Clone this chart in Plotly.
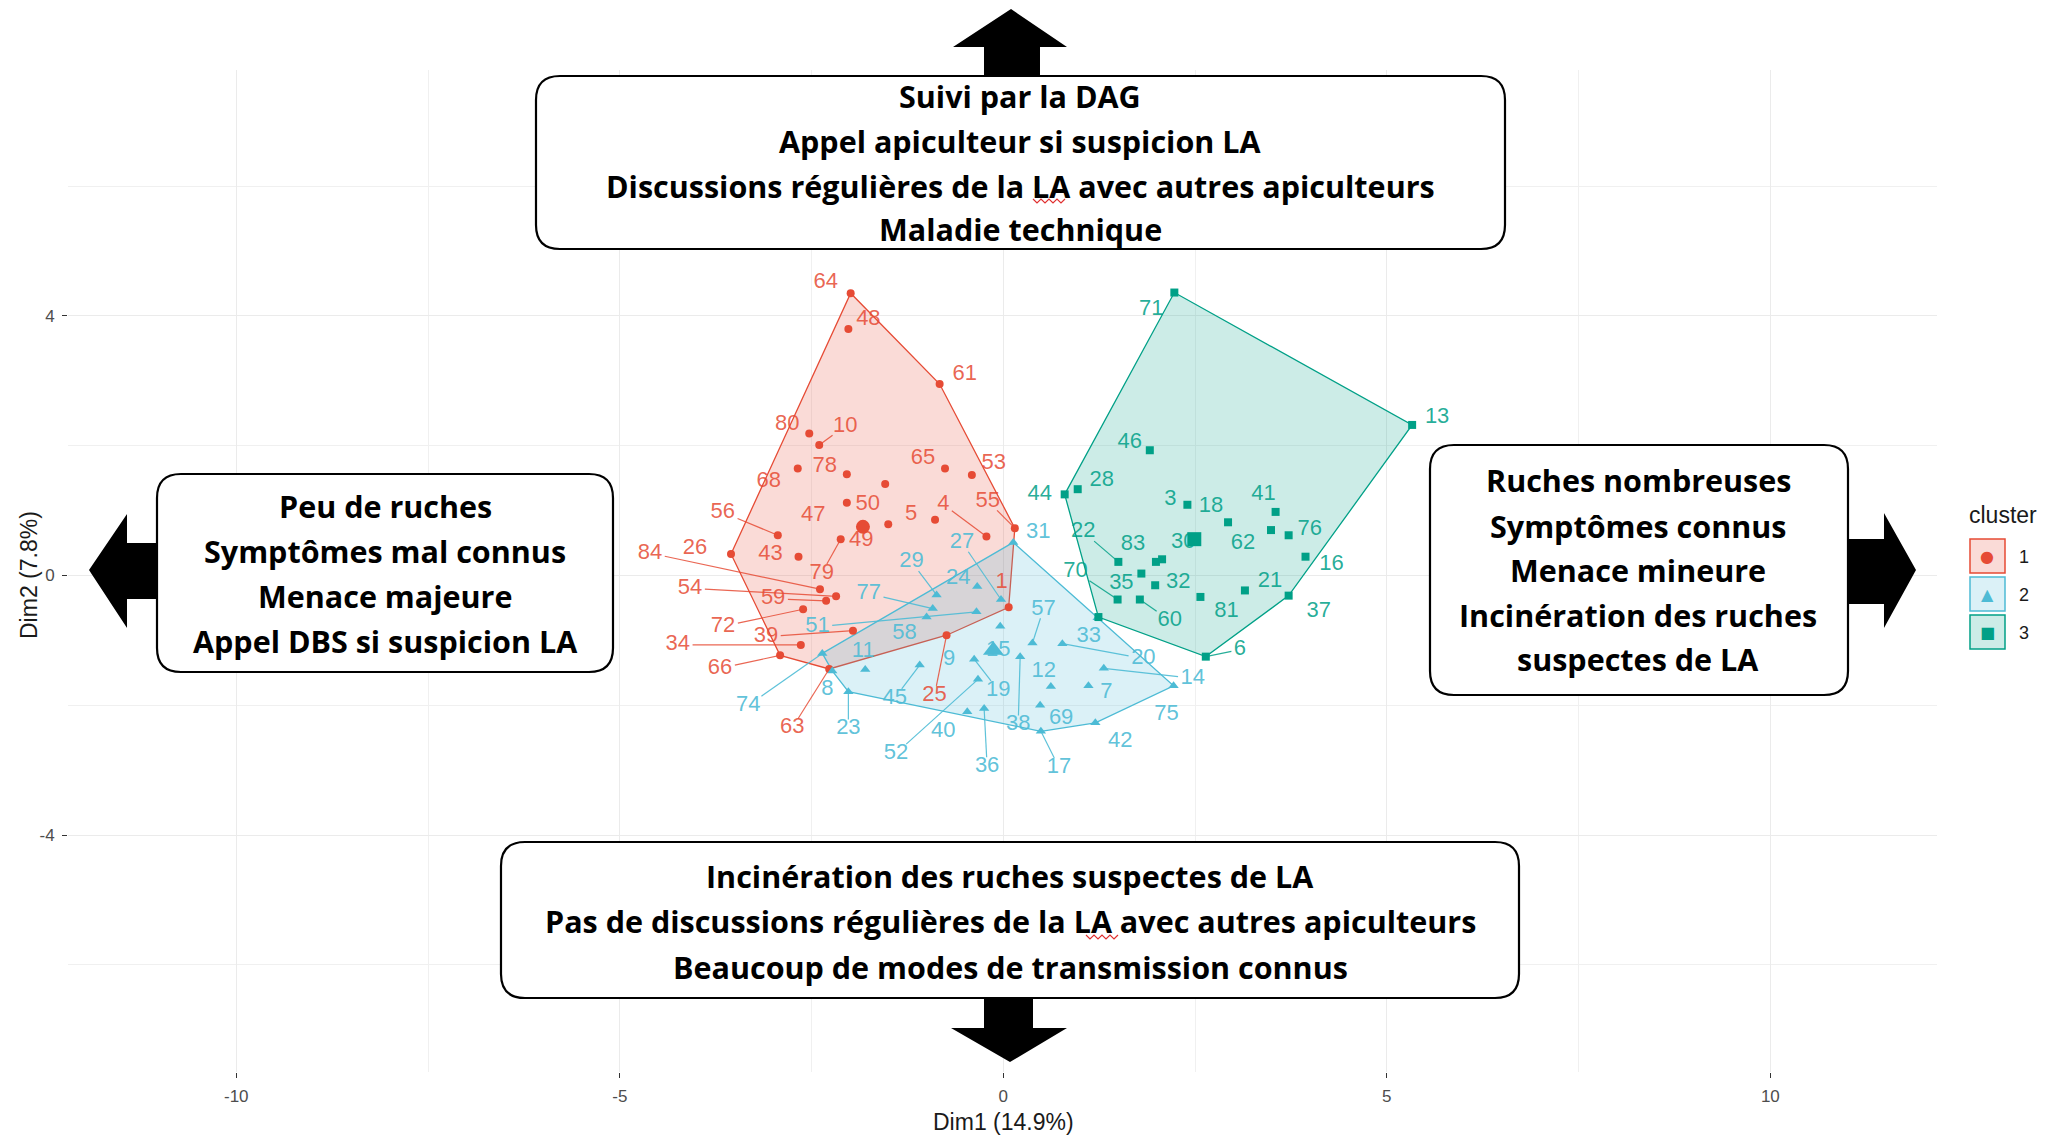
import plotly.graph_objects as go

# ---------------- data ----------------
ids1 = ["64", "48", "61", "80", "10", "68", "78", "67", "65", "53", "50", "47", "49", "5", "4",
        "55", "56", "79", "26", "43", "84", "54", "59", "72", "39", "34", "66", "63", "25", "1"]
x1 = [-1.99, -2.02, -0.83, -2.53, -2.40, -2.68, -2.04, -1.54, -0.76, -0.41, -2.04, -1.84, -1.50, -0.89, -0.22,
      0.15, -2.94, -2.12, -3.55, -2.67, -2.39, -2.18, -2.31, -2.61, -1.96, -2.64, -2.91, -2.27, -0.74, 0.07]
y1 = [4.35, 3.80, 2.95, 2.19, 2.01, 1.65, 1.56, 1.41, 1.65, 1.55, 1.12, 0.73, 0.79, 0.86, 0.60,
      0.73, 0.62, 0.56, 0.33, 0.29, -0.21, -0.32, -0.39, -0.52, -0.85, -1.07, -1.23, -1.44, -0.92, -0.49]

ids2 = ["31", "27", "29", "24", "77", "58", "51", "74", "8", "11", "23", "45", "9", "15", "19",
        "52", "40", "36", "38", "57", "12", "69", "17", "20", "33", "14", "7", "42", "75"]
x2 = [0.13, -0.03, -0.87, -0.34, -0.92, -1.00, -0.35, -2.36, -2.23, -1.80, -2.02, -1.09, -0.04, -0.13, -0.38,
      -0.33, -0.47, -0.25, 0.22, 0.38, 0.62, 0.48, 0.49, 0.77, 1.23, 1.31, 1.11, 1.20, 2.22]
y2 = [0.51, -0.37, -0.30, -0.17, -0.51, -0.64, -0.56, -1.20, -1.47, -1.45, -1.79, -1.38, -0.78, -1.15, -1.29,
      -1.60, -2.10, -2.05, -1.25, -1.04, -1.71, -2.00, -2.40, -1.05, -0.65, -1.43, -1.70, -2.27, -1.70]

ids3 = ["71", "13", "46", "44", "28", "3", "18", "41", "62", "76", "30", "16", "22", "83", "82",
        "35", "32", "70", "60", "81", "21", "37", "6", "73"]
x3 = [2.23, 5.33, 1.91, 0.80, 0.97, 2.40, 2.93, 3.55, 3.49, 3.72, 2.49, 3.94, 1.50, 1.99, 2.07,
      1.80, 1.98, 1.49, 1.78, 2.57, 3.15, 3.72, 2.64, 1.24]
y3 = [4.36, 2.32, 1.93, 1.25, 1.33, 1.09, 0.82, 0.98, 0.70, 0.62, 0.55, 0.29, 0.21, 0.21, 0.25,
      0.03, -0.15, -0.37, -0.37, -0.33, -0.23, -0.31, -1.25, -0.64]

centre_x = [-1.83, -0.13, 2.49]
centre_y = [0.75, -1.15, 0.56]
cluster_names = ["1", "2", "3"]

x_ticks = [-10, -5, 0, 5, 10]
y_ticks = [-4, 0, 4]

# ---------------- layout / style ----------------
W, H = 2051, 1135
ML, MR, MT, MB = 68, 114, 70, 63
PW, PH = W - ML - MR, H - MT - MB
XR = [-12.194, 12.173]
YR = [-7.650, 7.789]
PPX = PW / (XR[1] - XR[0])
PPY = PH / (YR[1] - YR[0])

COLORS = ["#E64B35", "#4DBBD5", "#00A087"]
TEXTC = ["rgba(230,75,53,0.85)", "rgba(77,187,213,0.9)", "rgba(0,160,135,0.85)"]
FILLS = ["rgba(230,75,53,0.2)", "rgba(77,187,213,0.2)", "rgba(0,160,135,0.2)"]
SYMBOLS = ["circle", "triangle-up", "square"]
MSIZE = [8, 9, 8]
CSIZE = [14, 18, 14]
LFS = 22
FONT = "Liberation Sans, Arial, sans-serif"
BFONT = "'Open Sans', Lato, sans-serif"
BFS = 30.5

# label offsets from point (pixels) and whether a repel segment is drawn
LABEL_POS = {
    "64": (-25, -11, 0), "48": (20, -9, 0), "61": (25, -10, 0), "80": (-22, -9, 0), "10": (26, -19, 1),
    "68": (-29, 13, 0), "78": (-22, -8, 0), "65": (-22, -10, 0), "53": (22, -11, 0), "50": (21, 2, 0),
    "47": (-49, -13, 0), "49": (-27, 16, 0), "5": (-24, -5, 0), "4": (-43, -32, 1), "55": (-27, -27, 1),
    "56": (-55, -23, 1), "79": (-19, 34, 1), "26": (-36, -6, 0), "43": (-28, -2, 0), "84": (-170, -36, 1),
    "54": (-146, -8, 1), "59": (-53, -2, 1), "72": (-80, 17, 1), "39": (-87, 6, 1), "34": (-123, 0, 1),
    "66": (-60, 13, 1), "63": (-37, 59, 1), "25": (-12, 60, 1), "1": (-7, -25, 0),
    "31": (25, -10, 0), "27": (-39, -57, 1), "29": (-25, -33, 1), "24": (-19, -8, 0), "77": (-64, -15, 1),
    "58": (-22, 16, 0), "51": (-159, 15, 1), "74": (-74, 52, 1), "8": (-5, 19, 0), "11": (-2, -18, 0),
    "23": (0, 37, 1), "45": (-25, 33, 1), "9": (-51, 33, 0), "15": (5, 0, 0), "19": (24, 31, 1),
    "52": (-82, 74, 1), "40": (-24, 20, 0), "36": (3, 58, 1), "38": (-2, 68, 1), "57": (11, -34, 1),
    "12": (-7, -15, 0), "69": (21, 13, 0), "17": (18, 36, 1), "20": (81, 15, 1), "33": (-9, 19, 0),
    "14": (89, 10, 1), "7": (18, 7, 0), "42": (25, 19, 0), "75": (-7, 29, 0),
    "71": (-23, 17, 0), "13": (25, -7, 0), "46": (-20, -8, 0), "44": (-25, 0, 0), "28": (24, -9, 0),
    "3": (-17, -5, 0), "18": (-17, -16, 0), "41": (-12, -17, 0), "62": (-28, 13, 0), "76": (21, -6, 0),
    "30": (-11, 3, 0), "16": (26, 8, 0), "22": (-35, -30, 1), "83": (-23, -17, 0), "35": (-20, 10, 0),
    "32": (23, -3, 0), "70": (-42, -28, 1), "60": (30, 21, 1), "81": (26, 15, 0), "21": (25, -9, 0),
    "37": (30, 16, 0), "6": (34, -7, 1),
}

clusters = [(ids1, x1, y1), (ids2, x2, y2), (ids3, x3, y3)]


def paper(px, py):
    return (px - ML) / PW, 1 - (py - MT) / PH


def convex_hull(xs, ys):
    pts = sorted(set(zip(xs, ys)))

    def cross(o, a, b):
        return (a[0] - o[0]) * (b[1] - o[1]) - (a[1] - o[1]) * (b[0] - o[0])
    lower, upper = [], []
    for p in pts:
        while len(lower) >= 2 and cross(lower[-2], lower[-1], p) <= 0:
            lower.pop()
        lower.append(p)
    for p in reversed(pts):
        while len(upper) >= 2 and cross(upper[-2], upper[-1], p) <= 0:
            upper.pop()
        upper.append(p)
    h = lower[:-1] + upper[:-1]
    h.append(h[0])
    return [p[0] for p in h], [p[1] for p in h]


fig = go.Figure()

# hulls
for k, (ids, xs, ys) in enumerate(clusters):
    hx, hy = convex_hull(xs, ys)
    fig.add_trace(go.Scatter(x=hx, y=hy, mode="lines", fill="toself", fillcolor=FILLS[k],
                             line=dict(color=COLORS[k], width=1.3), hoverinfo="skip", showlegend=False))
# points
for k, (ids, xs, ys) in enumerate(clusters):
    fig.add_trace(go.Scatter(x=xs, y=ys, mode="markers", text=ids,
                             marker=dict(symbol=SYMBOLS[k], size=MSIZE[k], color=COLORS[k], line=dict(width=0)),
                             showlegend=False))
# repel segments + labels
for k, (ids, xs, ys) in enumerate(clusters):
    sx, sy, tx, ty, tt = [], [], [], [], []
    for i, x, y in zip(ids, xs, ys):
        if i not in LABEL_POS:
            continue
        dx, dy, seg = LABEL_POS[i]
        tx.append(x + dx / PPX)
        ty.append(y - dy / PPY)
        tt.append(i)
        if seg:
            hw = 0.29 * LFS * len(i) + 2
            hh = 0.42 * LFS
            t = min(hw / abs(dx) if dx else 1e9, hh / abs(dy) if dy else 1e9)
            f = max(0.0, 1 - t)
            sx += [x, x + dx * f / PPX, None]
            sy += [y, y - dy * f / PPY, None]
    fig.add_trace(go.Scatter(x=sx, y=sy, mode="lines", line=dict(color=TEXTC[k], width=1.2),
                             hoverinfo="skip", showlegend=False))
    fig.add_trace(go.Scatter(x=tx, y=ty, mode="text", text=tt, textposition="middle center",
                             textfont=dict(family=FONT, size=LFS, color=TEXTC[k]),
                             hoverinfo="skip", showlegend=False))
# centroids
for k in range(3):
    fig.add_trace(go.Scatter(x=[centre_x[k]], y=[centre_y[k]], mode="markers",
                             marker=dict(symbol=SYMBOLS[k], size=CSIZE[k], color=COLORS[k], line=dict(width=0)),
                             showlegend=False))

shapes = []
annotations = []


def note(px, py, text, size, family=FONT, color="#1a1a1a", xanchor="center", **kw):
    a, b = paper(px, py)
    annotations.append(dict(x=a, y=b, xref="paper", yref="paper", text=text, showarrow=False,
                            xanchor=xanchor, yanchor="middle",
                            font=dict(family=family, size=size, color=color), **kw))


def poly(points, fill="black"):
    pp = [paper(*p) for p in points]
    d = "M " + " L ".join(f"{a:.5f},{b:.5f}" for a, b in pp) + " Z"
    shapes.append(dict(type="path", xref="paper", yref="paper", path=d, fillcolor=fill,
                       line=dict(width=0), layer="above"))


def squiggle(x0, x1_, yy, step=4, amp=2):
    pts = []
    x = x0
    up = True
    while x <= x1_:
        pts.append((x, yy - amp if up else yy + amp))
        up = not up
        x += step
    pp = [paper(*p) for p in pts]
    d = "M " + " L ".join(f"{a:.5f},{b:.5f}" for a, b in pp)
    shapes.append(dict(type="path", xref="paper", yref="paper", path=d,
                       line=dict(color="#E03030", width=1.2), layer="above"))


def rbox(x0, y0, x1_, y1_, r=24):
    segs = [("M", (x0 + r, y0)), ("L", (x1_ - r, y0)), ("Q", (x1_, y0), (x1_, y0 + r)),
            ("L", (x1_, y1_ - r)), ("Q", (x1_, y1_), (x1_ - r, y1_)), ("L", (x0 + r, y1_)),
            ("Q", (x0, y1_), (x0, y1_ - r)), ("L", (x0, y0 + r)), ("Q", (x0, y0), (x0 + r, y0))]
    d = ""
    for s in segs:
        coords = " ".join("{:.5f},{:.5f}".format(*paper(*p)) for p in s[1:])
        d += f"{s[0]} {coords} "
    d += "Z"
    shapes.append(dict(type="path", xref="paper", yref="paper", path=d, fillcolor="white",
                       line=dict(color="black", width=2.2), layer="above"))


def lines_text(cx, ys, texts):
    for yy, t in zip(ys, texts):
        note(cx, yy, f"<b>{t}</b>", BFS, family=BFONT, color="black")


# arrows
poly([(1011, 9), (1067, 47), (1040, 47), (1040, 80), (984, 80), (984, 47), (953, 47)])      # up
poly([(1010, 1062), (1067, 1028), (1033, 1028), (1033, 995), (984, 995), (984, 1028), (951, 1028)])  # down
poly([(89, 570), (127, 514), (127, 543), (160, 543), (160, 599), (127, 599), (127, 628)])  # left
poly([(1916, 570), (1884, 513), (1884, 539), (1845, 539), (1845, 604), (1884, 604), (1884, 628)])  # right

# boxes
rbox(536, 76, 1505, 249)
rbox(501, 842, 1519, 998)
rbox(157, 474, 613, 672)
rbox(1430, 445, 1848, 695)

lines_text(1020, [96, 141, 186, 229], ["Suivi par la DAG", "Appel apiculteur si suspicion LA",
                                       "Discussions régulières de la LA avec autres apiculteurs",
                                       "Maladie technique"])
lines_text(1010, [876, 921, 967], ["Incinération des ruches suspectes de LA",
                                   "Pas de discussions régulières de la LA avec autres apiculteurs",
                                   "Beaucoup de modes de transmission connus"])
lines_text(385, [506, 551, 596, 641], ["Peu de ruches", "Symptômes mal connus", "Menace majeure",
                                       "Appel DBS si suspicion LA"])
lines_text(1638, [480, 526, 570, 615, 659], ["Ruches nombreuses", "Symptômes connus", "Menace mineure",
                                             "Incinération des ruches", "suspectes de LA"])
# spell-check underlines seen under "LA" in the screenshot
squiggle(1033, 1066, 201)
squiggle(1086, 1118, 937)

# axis titles
note(1003, 1122, "Dim1 (14.9%)", 23)
note(29, 575, "Dim2 (7.8%)", 23, textangle=-90)

# legend (drawn manually, ggplot style)
note(2003, 515, "cluster", 23)
glyphs = ["●", "▲", "■"]
for k in range(3):
    y0 = 539 + k * 38
    a0, b0 = paper(1970, y0)
    a1, b1 = paper(2005, y0 + 34)
    shapes.append(dict(type="rect", xref="paper", yref="paper", x0=a0, x1=a1, y0=b1, y1=b0,
                       fillcolor=FILLS[k], line=dict(color=COLORS[k], width=1.5), layer="above"))
    note(1987.5, y0 + 17, glyphs[k], 16, family="DejaVu Sans", color=COLORS[k])
    note(2017, y0 + 18, cluster_names[k], 18, xanchor="left")

axis_common = dict(showline=False, zeroline=False, ticks="outside", ticklen=5, tickwidth=1,
                   tickcolor="#333333", gridcolor="#EBEBEB", gridwidth=1.3, automargin=False,
                   ticklabelstandoff=4,
                   tickfont=dict(family=FONT, size=17, color="#4D4D4D"))
fig.update_layout(
    width=W, height=H, margin=dict(l=ML, r=MR, t=MT, b=MB, pad=0, autoexpand=False),
    paper_bgcolor="white", plot_bgcolor="white", showlegend=False,
    xaxis=dict(range=XR, tickvals=x_ticks, ticktext=[str(v) for v in x_ticks],
               minor=dict(tickvals=[-12.5, -7.5, -2.5, 2.5, 7.5, 12.5], showgrid=True,
                          gridcolor="#F0F0F0", gridwidth=1, ticks=""), **axis_common),
    yaxis=dict(range=YR, tickvals=y_ticks, ticktext=[str(v) for v in y_ticks],
               minor=dict(tickvals=[-6, -2, 2, 6], showgrid=True, gridcolor="#F0F0F0", gridwidth=1, ticks=""),
               **axis_common),
    shapes=shapes, annotations=annotations,
)

fig.write_html("out.html", config={"displayModeBar": False},
               post_script="document.body.style.margin='0px';")
